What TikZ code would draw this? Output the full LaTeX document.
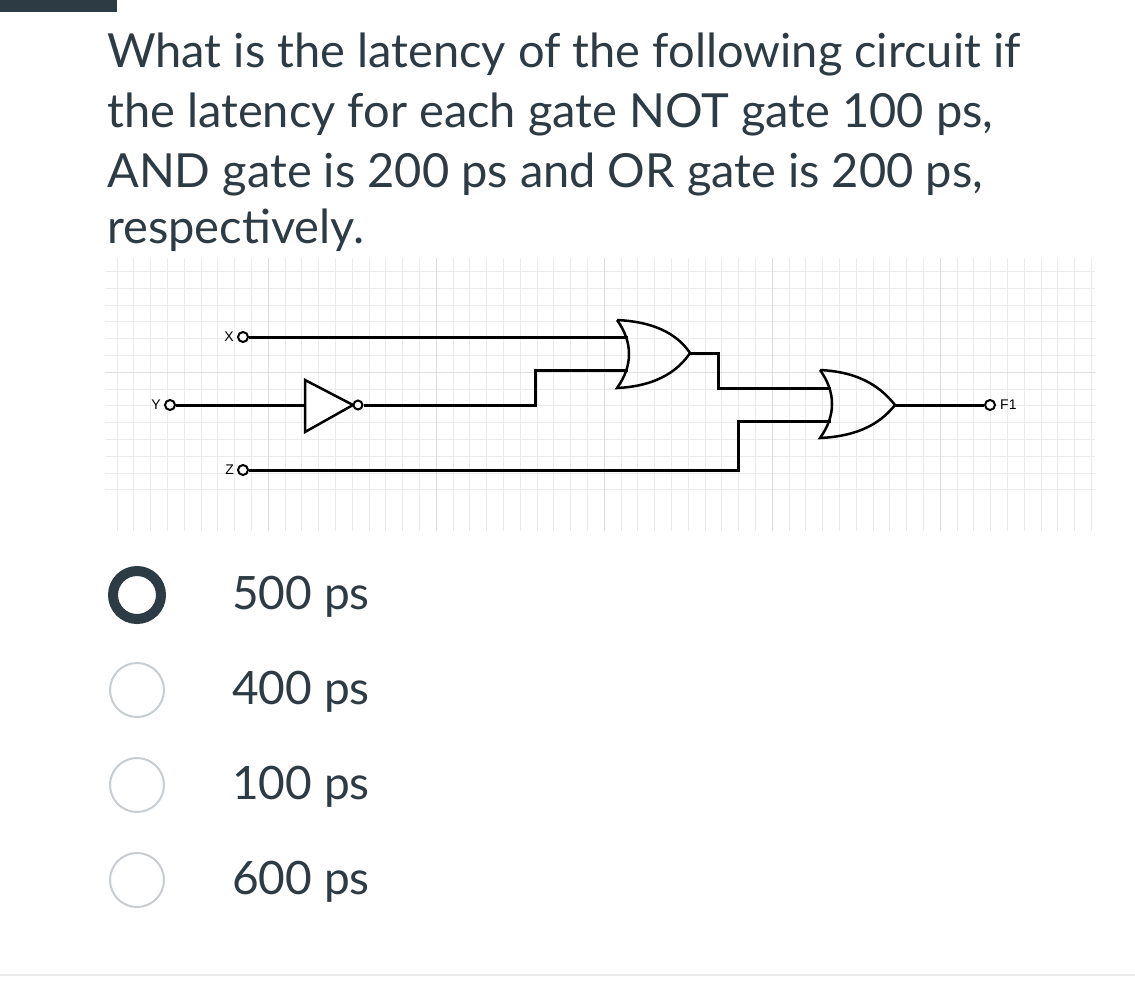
\documentclass[tikz,border=0pt]{standalone}
\usepackage{fontspec}
\setmainfont{Lato}
\newfontfamily\circfont{Liberation Sans}
\definecolor{ink}{HTML}{2D3B45}
\definecolor{ring}{HTML}{C7CDD1}
\definecolor{gridc}{HTML}{EBEBEB}
\begin{document}
\begin{tikzpicture}[x=1pt,y=-1pt,
  qline/.style={anchor=base west,inner sep=0,text=ink,font=\fontsize{47}{61}\selectfont},
  qtext/.style={anchor=base west,inner sep=0,font=\fontsize{46}{52}\selectfont,text=ink},
  wire/.style={line width=3pt,black},
  pin/.style={circle,draw=black,line width=2pt,fill=white,minimum size=10pt,inner sep=0},
  lab/.style={font=\circfont\fontsize{14}{14}\selectfont,inner sep=0},
  radio/.style={circle,draw=ring,line width=2pt,minimum size=54pt,inner sep=0}]
\useasboundingbox (0,0) rectangle (1135,991);
\fill[white] (0,0) rectangle (1135,991);
\fill[ink] (0,0) rectangle (117,12);
% question
\node[qline] (q1) at (107,67) {What is the latency of the following circuit if};
\node[qline] (q2) at (107,127) {the latency for each gate NOT gate 100 ps,};
\node[qline] (q3) at (107,187) {AND gate is 200 ps and OR gate is 200 ps,};
\node[qline] (q4) at (107,243) {respectively.};
% grid
\begin{scope}
\clip (105,258) rectangle (1095,530);
\foreach \i in {0,...,60} \draw[gridc,line width=0.6pt] (100+\i*16.8,250) -- (100+\i*16.8,540);
\foreach \j in {0,...,20} \draw[gridc,line width=0.6pt] (100,204+\j*16.8-50.4) -- (1100,204+\j*16.8-50.4);
\foreach \i in {0,...,6} \draw[black!13,line width=0.8pt] (100+\i*168,250) -- (100+\i*168,540);
\draw[black!13,line width=0.8pt] (100,372) -- (1100,372);
\end{scope}
% pins
\node[pin] (x) at (243,337) {};
\node[pin] (y) at (170,405) {};
\node[pin] (z) at (243,470) {};
\node[pin] (f) at (990,405) {};
\node[lab,anchor=east] at (234,337) {X};
\node[lab,anchor=east] at (161,405) {Y};
\node[lab,anchor=east] at (234,470) {Z};
\node[lab,anchor=west] at (1000,405) {F1};
% NOT
\draw[line width=2.5pt,fill=white] (305,380) -- (353,405) -- (305,432) -- cycle;
\node[pin,minimum size=9pt] (nb) at (358,405) {};
\coordinate (nin) at (305,405);
% OR gates
\draw[line width=2.5pt] (617,320) .. controls (660,322) and (680,338) .. (690,353) .. controls (680,368) and (660,386) .. (617,388) .. controls (633,366) and (633,342) .. (617,320);
\coordinate (o1a) at (628,337); \coordinate (o1b) at (628,370); \coordinate (o1o) at (690,353);
\draw[line width=2.5pt] (820,370) .. controls (863,372) and (883,390) .. (895,405) .. controls (883,420) and (863,436) .. (820,438) .. controls (836,416) and (836,392) .. (820,370);
\coordinate (o2a) at (831,388); \coordinate (o2b) at (831,421); \coordinate (o2o) at (895,405);
% wires
\draw[wire] (x) -- (o1a);
\draw[wire] (y) -- (nin);
\draw[wire] (nb) -- (535,405) -- (535,370) -- (o1b);
\draw[wire] (o1o) -- (718,353) -- (718,388) -- (o2a);
\draw[wire] (z) -- (738,470) -- (738,421) -- (o2b);
\draw[wire] (o2o) -- (f);
% options
\node[circle,draw=ink,line width=10pt,minimum size=48pt,inner sep=0] (r1) at (137,595) {};
\node[radio] (r2) at (137,690) {};
\node[radio] (r3) at (137,785) {};
\node[radio] (r4) at (137,880) {};
\node[qtext] (a1) at (232,609) {500 ps};
\node[qtext] (a2) at (232,704) {400 ps};
\node[qtext] (a3) at (232,799) {100 ps};
\node[qtext] (a4) at (232,894) {600 ps};
\draw[black!8,line width=1.5pt] (0,975) -- (1135,975);
\end{tikzpicture}
\end{document}
